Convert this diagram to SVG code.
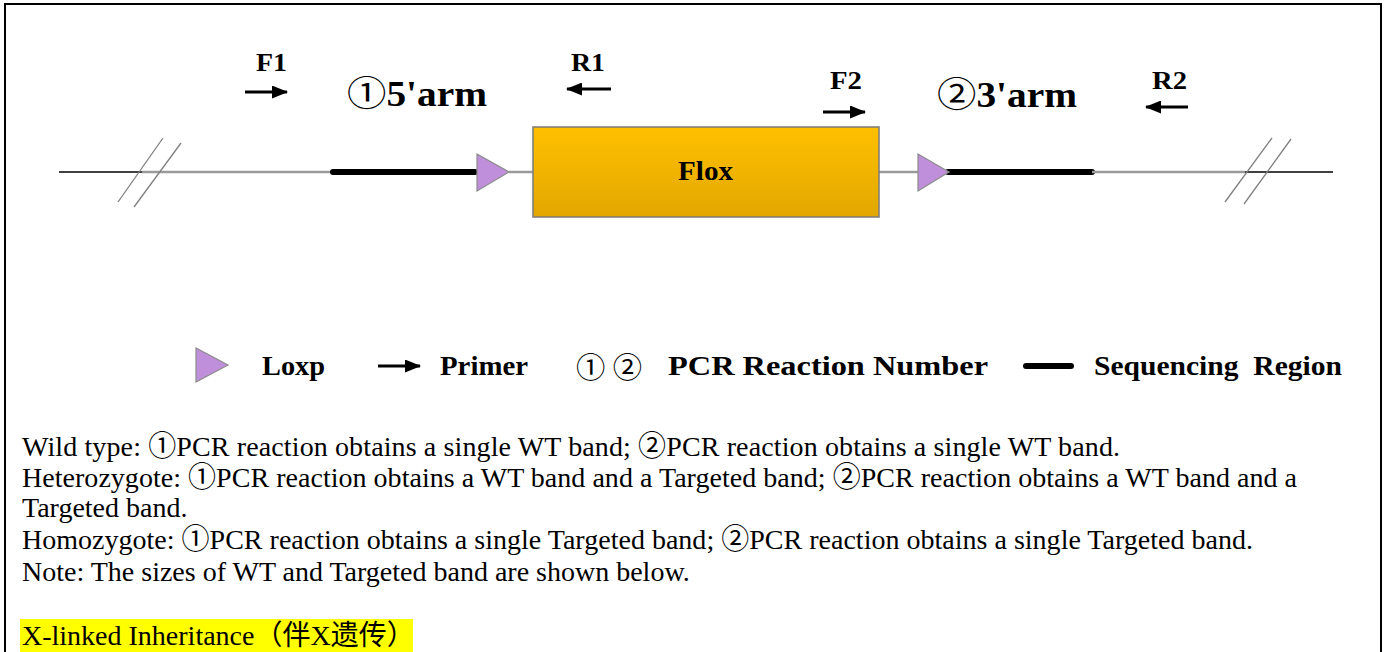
<svg xmlns="http://www.w3.org/2000/svg" width="1387" height="652" viewBox="0 0 1387 652">
<style>
.lbl{font-family:"Liberation Serif","Noto Sans CJK SC",serif;font-weight:bold;fill:#000}
.body{font-family:"Liberation Serif","Noto Sans CJK SC",serif;font-size:28px;fill:#000}
.thin{stroke:#000;stroke-width:1.5;fill:none}
.gray{stroke:#9a9a9a;stroke-width:2.5;fill:none}
.seq{stroke:#000;stroke-width:6;stroke-linecap:round;fill:none}
.slash{stroke:#808080;stroke-width:1.3;fill:none}
.loxp{fill:#BF8FDB;stroke:#8c8c8c;stroke-width:1.2}
.primer{stroke:#000;stroke-width:3;fill:none;marker-end:url(#ah)}
</style>
<defs>
<marker id="ah" markerUnits="userSpaceOnUse" markerWidth="16" markerHeight="13" refX="15" refY="6.5" orient="auto">
<path d="M0,0 L16,6.5 L0,13 Z" fill="#000"/>
</marker>
<linearGradient id="flox" x1="0" y1="0" x2="0" y2="1">
<stop offset="0" stop-color="#FFC000"/>
<stop offset="1" stop-color="#E2A700"/>
</linearGradient>
</defs>
<rect width="1387" height="652" fill="#fff"/>
<g id="frame">
<path d="M5,652 V4 H1381 V652" fill="none" stroke="#000" stroke-width="2"/>
</g>
<g id="connectors">
<line class="thin" x1="59" y1="172" x2="142" y2="172"/>
<line class="gray" x1="142" y1="172" x2="332" y2="172"/>
<line class="seq" x1="333" y1="172" x2="475" y2="172"/>
<line class="gray" x1="509" y1="172" x2="533" y2="172"/>
<line class="gray" x1="879" y1="172" x2="918" y2="172"/>
<line class="seq" x1="948" y1="172" x2="1092" y2="172"/>
<line class="gray" x1="1092" y1="172" x2="1245" y2="172"/>
<line class="thin" x1="1245" y1="172" x2="1333" y2="172"/>
<line class="slash" x1="163" y1="138" x2="118" y2="202"/>
<line class="slash" x1="181" y1="143" x2="134" y2="207"/>
<line class="slash" x1="1272" y1="138" x2="1225" y2="202"/>
<line class="slash" x1="1291" y1="139" x2="1244" y2="204"/>
<line class="primer" x1="245" y1="92" x2="287" y2="92"/>
<line class="primer" x1="611" y1="89" x2="567" y2="89"/>
<line class="primer" x1="823" y1="112" x2="865" y2="112"/>
<line class="primer" x1="1188" y1="107" x2="1146" y2="107"/>
</g>
<g id="loxp1"><polygon class="loxp" points="477,154 477,191 509,172"/></g>
<g id="loxp2"><polygon class="loxp" points="918,154 918,191 949,172"/></g>
<g id="flox-box">
<rect x="533" y="127" width="346" height="90" fill="url(#flox)" stroke="#7a7a7a" stroke-width="1.5"/>
<text class="lbl" x="678" y="180" font-size="28" textLength="55" lengthAdjust="spacingAndGlyphs">Flox</text>
</g>
<g id="primer-labels">
<text class="lbl" x="256" y="71" font-size="25" textLength="31" lengthAdjust="spacingAndGlyphs">F1</text>
<text class="lbl" x="571" y="71" font-size="25" textLength="34" lengthAdjust="spacingAndGlyphs">R1</text>
<text class="lbl" x="830" y="89" font-size="25" textLength="32" lengthAdjust="spacingAndGlyphs">F2</text>
<text class="lbl" x="1152" y="89" font-size="25" textLength="35" lengthAdjust="spacingAndGlyphs">R2</text>
</g>
<g id="arm-labels">
<text class="lbl" x="347" y="106" font-size="35" textLength="140" lengthAdjust="spacingAndGlyphs"><tspan font-weight="normal">①</tspan>5'arm</text>
<text class="lbl" x="937" y="107" font-size="35" textLength="140" lengthAdjust="spacingAndGlyphs"><tspan font-weight="normal">②</tspan>3'arm</text>
</g>
<g id="legend">
<polygon class="loxp" points="196,348 196,382 228,365"/>
<text class="lbl" x="262" y="375" font-size="28" textLength="63" lengthAdjust="spacingAndGlyphs">Loxp</text>
<line class="primer" x1="378" y1="366" x2="420" y2="366"/>
<text class="lbl" x="440" y="375" font-size="28" textLength="88" lengthAdjust="spacingAndGlyphs">Primer</text>
<text class="body" x="576" y="378" font-size="34" textLength="66" lengthAdjust="spacingAndGlyphs">① ②</text>
<text class="lbl" x="668" y="375" font-size="28" textLength="320" lengthAdjust="spacingAndGlyphs">PCR Reaction Number</text>
<line class="seq" x1="1026" y1="366" x2="1071" y2="366"/>
<text class="lbl" x="1094" y="375" font-size="28" textLength="248" lengthAdjust="spacingAndGlyphs" xml:space="preserve">Sequencing  Region</text>
</g>
<g id="description">
<rect x="20" y="619" width="393" height="33" fill="#FFFF00"/>
<text class="body" x="22" y="456" textLength="1098" lengthAdjust="spacing">Wild type: ①PCR reaction obtains a single WT band; ②PCR reaction obtains a single WT band.</text>
<text class="body" x="22" y="487" textLength="1275" lengthAdjust="spacing">Heterozygote: ①PCR reaction obtains a WT band and a Targeted band; ②PCR reaction obtains a WT band and a</text>
<text class="body" x="22" y="517">Targeted band.</text>
<text class="body" x="22" y="549" textLength="1231" lengthAdjust="spacing">Homozygote: ①PCR reaction obtains a single Targeted band; ②PCR reaction obtains a single Targeted band.</text>
<text class="body" x="22" y="581">Note: The sizes of WT and Targeted band are shown below.</text>
<text class="body" x="22" y="645">X-linked Inheritance（伴X遗传）</text>
</g>
</svg>
